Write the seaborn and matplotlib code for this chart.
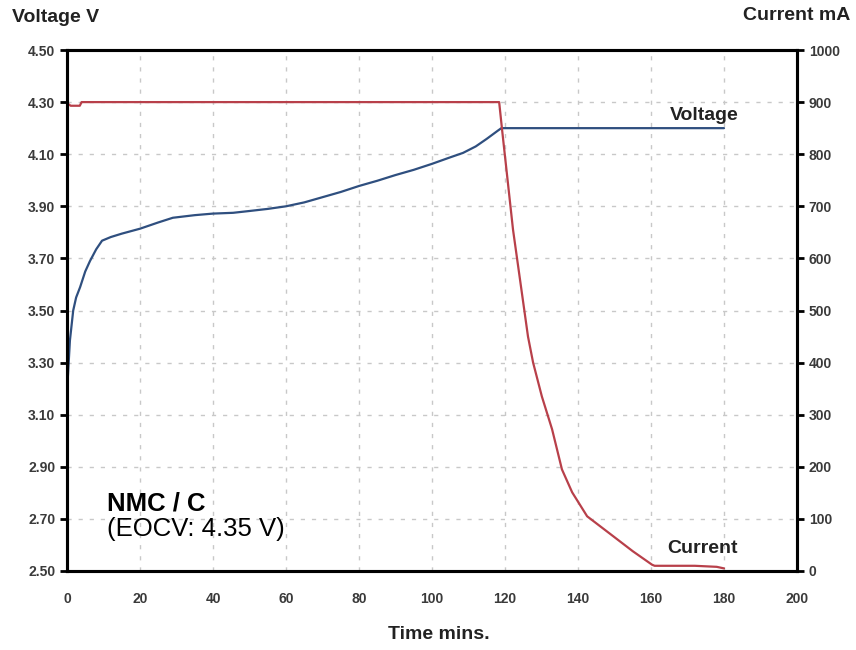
import seaborn as sns
import matplotlib.pyplot as plt
import pandas as pd

# Charge curve
volt_time = [0, 0.3, 0.8, 1.7, 2.5, 3.6, 5, 6.3, 8, 9.6, 12, 15, 20, 25, 29,
             35, 40, 45.5, 50, 55, 60, 65, 70, 75, 80, 85, 90, 95, 100, 105,
             108.5, 112, 115, 118, 119, 180]
volt_vals = [3.19, 3.26, 3.385, 3.50, 3.55, 3.59, 3.65, 3.69, 3.735, 3.768,
             3.782, 3.795, 3.814, 3.838, 3.856, 3.866, 3.872, 3.875, 3.882,
             3.89, 3.90, 3.915, 3.935, 3.955, 3.978, 3.998, 4.02, 4.04, 4.063,
             4.088, 4.105, 4.13, 4.159, 4.19, 4.20, 4.20]

curr_time = [0, 1, 3.5, 4, 118.4, 119.2, 122.2, 126.3, 127.7, 130.1, 132.9,
             135.6, 138.4, 142.5, 149.6, 155, 160.3, 161, 172, 178, 180]
curr_vals = [898, 893, 893, 900, 900, 847, 655, 450, 400, 335, 272, 195, 151,
             105, 67, 38, 12, 10, 10, 8, 5]

volt_ticks = [2.50, 2.70, 2.90, 3.10, 3.30, 3.50, 3.70, 3.90, 4.10, 4.30, 4.50]
curr_ticks = [0, 100, 200, 300, 400, 500, 600, 700, 800, 900, 1000]
time_ticks = [0, 20, 40, 60, 80, 100, 120, 140, 160, 180, 200]

volt_df = pd.DataFrame({"time": volt_time, "voltage": volt_vals})
curr_df = pd.DataFrame({"time": curr_time, "current": curr_vals})

sns.set_style("white")
plt.rcParams["font.family"] = ["Liberation Sans", "DejaVu Sans"]

fig = plt.figure(figsize=(8.56, 6.5), dpi=100)
ax = fig.add_axes([67 / 856, 1 - 571 / 650, 730 / 856, 521 / 650])
ax2 = ax.twinx()

sns.lineplot(data=volt_df, x="time", y="voltage", ax=ax, color="#2f4f7f",
             linewidth=1.6, sort=False)
sns.lineplot(data=curr_df, x="time", y="current", ax=ax2, color="#b8404a",
             linewidth=1.6, sort=False)

ax.set_xlim(0, 200)
ax.set_ylim(2.5, 4.5)
ax2.set_ylim(0, 1000)
ax.set_xticks(time_ticks)
ax.set_yticks(volt_ticks)
ax2.set_yticks(curr_ticks)
ax.set_yticklabels([f"{v:.2f}" for v in volt_ticks])

ax.grid(True, linestyle=(0, (3, 5)), color="#c8c8c8", linewidth=1.0)
ax.set_axisbelow(True)

for a in (ax, ax2):
    for s in a.spines.values():
        s.set_color("black")
        s.set_linewidth(2.2)
    a.tick_params(direction="out", length=5, width=2, color="black",
                  labelsize=10, labelcolor="#3a3a3a")
    for lab in a.get_xticklabels() + a.get_yticklabels():
        lab.set_fontweight("bold")
ax.tick_params(axis="x", pad=10)

ax.set_xlabel("Time mins.", fontsize=14, fontweight="bold", color="#222222",
              labelpad=14)
ax.xaxis.set_label_coords(0.51, -0.105)
ax.set_ylabel("")
ax2.set_ylabel("")

fig.text(12 / 856, 1 - 18 / 650, "Voltage V", fontsize=14, fontweight="bold",
         color="#222222", ha="left", va="center")
fig.text(850 / 856, 1 - 15 / 650, "Current mA", fontsize=14, fontweight="bold",
         color="#222222", ha="right", va="center")

ax.text(174.5, 4.247, "Voltage", fontsize=14, fontweight="bold",
        color="#222222", ha="center", va="center")
ax2.text(174, 44, "Current", fontsize=14, fontweight="bold",
         color="#222222", ha="center", va="center")

ax.text(11, 2.76, "NMC / C", fontsize=18.5, fontweight="bold", color="black",
        ha="left", va="center")
ax.text(11, 2.66, "(EOCV: 4.35 V)", fontsize=18.5, color="black",
        ha="left", va="center")

fig.savefig("out.png", dpi=100)
plt.close(fig)
